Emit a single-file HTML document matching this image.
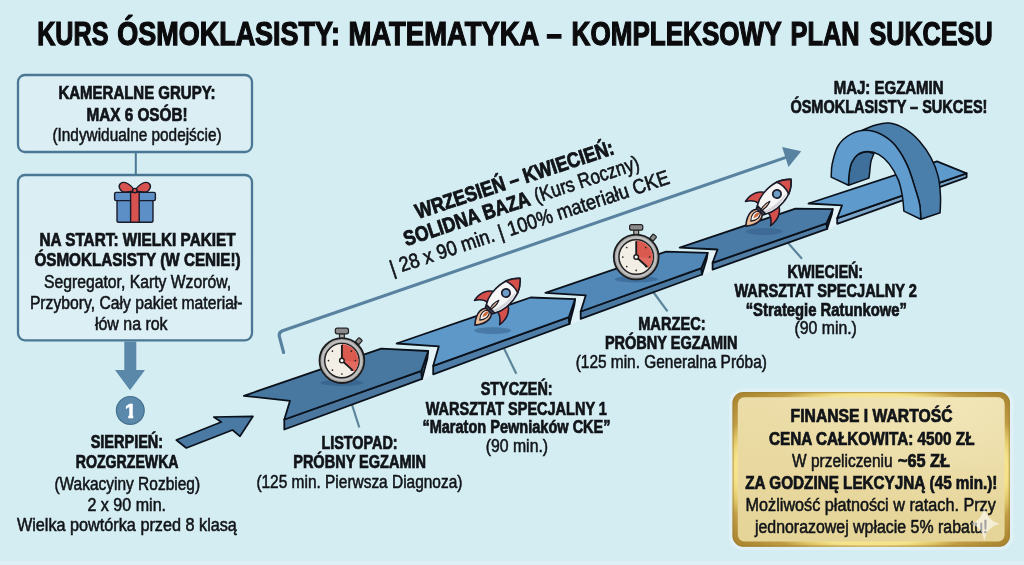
<!DOCTYPE html>
<html lang="pl"><head><meta charset="utf-8"><title>Kurs Ósmoklasisty: Matematyka – kompleksowy plan sukcesu</title>
<style>
html,body{margin:0;padding:0;background:#d4edf2;}
body{width:1024px;height:565px;overflow:hidden;}
svg{display:block;font-family:"Liberation Sans", sans-serif;will-change:transform;opacity:.999;}
</style></head><body>
<svg width="1024" height="565" viewBox="0 0 1024 565">
<defs>
<radialGradient id="gb" cx=".5" cy=".5" r=".78">
<stop offset="0" stop-color="#f6e58e"/><stop offset=".63" stop-color="#f5e48c"/><stop offset=".67" stop-color="#e2c96c"/>
<stop offset=".73" stop-color="#c09d45"/><stop offset=".82" stop-color="#b08c37"/><stop offset=".93" stop-color="#a4802c"/><stop offset="1" stop-color="#9c7928"/></radialGradient>
<linearGradient id="gf" x1="0" y1="0" x2="0" y2="1">
<stop offset="0" stop-color="#ecdda8"/><stop offset="1" stop-color="#e5d497"/></linearGradient>
<radialGradient id="gh" cx=".8" cy=".1" r=".7">
<stop offset="0" stop-color="#f6ecc4" stop-opacity=".55"/><stop offset="1" stop-color="#f6ecc4" stop-opacity="0"/></radialGradient>
</defs>
<rect width="1024" height="565" fill="#d4edf2"/>
<rect x="0" y="561" width="1024" height="4" fill="#e6f5f8" opacity=".45"/>
<text y="44.7" font-size="32.5" font-weight="bold" fill="#0b0b0d" stroke="#0b0b0d" stroke-width="1.25"><tspan x="37.2" textLength="71.2" lengthAdjust="spacingAndGlyphs">KURS</tspan> <tspan x="117.3" textLength="222.7" lengthAdjust="spacingAndGlyphs">ÓSMOKLASISTY:</tspan> <tspan x="348.5" textLength="189.9" lengthAdjust="spacingAndGlyphs">MATEMATYKA</tspan> <tspan x="546.6" textLength="15.3" lengthAdjust="spacingAndGlyphs">–</tspan> <tspan x="571.6" textLength="209.5" lengthAdjust="spacingAndGlyphs">KOMPLEKSOWY</tspan> <tspan x="790.6" textLength="69.0" lengthAdjust="spacingAndGlyphs">PLAN</tspan> <tspan x="869.4" textLength="123.2" lengthAdjust="spacingAndGlyphs">SUKCESU</tspan></text>
<rect x="18" y="75" width="234" height="77" rx="7" fill="#dceff5" stroke="#4a7894" stroke-width="2.3"/>
<line x1="135.8" y1="153" x2="135.8" y2="174" stroke="#4a7894" stroke-width="2"/>
<rect x="18" y="175" width="234" height="165.3" rx="7" fill="#dceff5" stroke="#4a7894" stroke-width="2.3"/>
<text x="58.4" y="98.8" font-size="18" font-weight="bold" fill="#111418" stroke="#111418" stroke-width="0.72" textLength="157.2" lengthAdjust="spacingAndGlyphs" >KAMERALNE GRUPY:</text>
<text x="86.4" y="120.5" font-size="18" font-weight="bold" fill="#111418" stroke="#111418" stroke-width="0.72" textLength="101.2" lengthAdjust="spacingAndGlyphs" >MAX 6 OSÓB!</text>
<text x="52.4" y="140.5" font-size="17.5" font-weight="normal" fill="#111418" stroke="#111418" stroke-width="0.53" textLength="169.2" lengthAdjust="spacingAndGlyphs" >(Indywidualne podejście)</text>
<text x="39.4" y="245.5" font-size="18" font-weight="bold" fill="#111418" stroke="#111418" stroke-width="0.72" textLength="196.2" lengthAdjust="spacingAndGlyphs" >NA START: WIELKI PAKIET</text>
<text x="34.4" y="266.3" font-size="18" font-weight="bold" fill="#111418" stroke="#111418" stroke-width="0.72" textLength="206.2" lengthAdjust="spacingAndGlyphs" >ÓSMOKLASISTY (W CENIE!)</text>
<text x="43.9" y="288.0" font-size="17.5" font-weight="normal" fill="#111418" stroke="#111418" stroke-width="0.53" textLength="187.2" lengthAdjust="spacingAndGlyphs" >Segregator, Karty Wzorów,</text>
<text x="29.9" y="309.3" font-size="17.5" font-weight="normal" fill="#111418" stroke="#111418" stroke-width="0.53" textLength="212.7" lengthAdjust="spacingAndGlyphs" >Przybory, Cały pakiet materiał-</text>
<text x="94.9" y="330.0" font-size="17.5" font-weight="normal" fill="#111418" stroke="#111418" stroke-width="0.53" textLength="72.7" lengthAdjust="spacingAndGlyphs" >łów na rok</text>
<g stroke="#1b1b2a" stroke-width="1.4" stroke-linejoin="round">
<path d="M134.8,191 C131,184 124,180.5 120.5,183.5 C117.5,186.5 120,191.5 125,192.3 Z" fill="#d9534f"/>
<path d="M134.8,191 C138.6,184 145.6,180.5 149.1,183.5 C152.1,186.5 149.6,191.5 144.6,192.3 Z" fill="#d9534f"/>
<rect x="117" y="200" width="36" height="22.3" rx="1.8" fill="#5b8fc5"/>
<rect x="114.6" y="192.4" width="40.8" height="8.2" rx="1.5" fill="#5b8fc5"/>
<rect x="130.6" y="192.4" width="8.6" height="29.9" fill="#d9534f"/>
<circle cx="134.8" cy="190.6" r="2.2" fill="#d9534f"/>
</g>
<polygon points="124.3,341.5 136.3,341.5 136.3,370 145,370 130,390.2 115,370 124.3,370" fill="#5a88a9"/>
<circle cx="130.3" cy="410.4" r="13.9" fill="#5b89ab" stroke="#44708f" stroke-width="1.2"/>
<clipPath id="c1"><polygon points="123,400 133.2,400 133.2,419 128.3,419 128.3,409.6 123,409.6"/></clipPath>
<text x="130.6" y="418" font-size="20.8" font-weight="bold" fill="#fff" stroke="#fff" stroke-width=".5" text-anchor="middle" clip-path="url(#c1)">1</text>
<text x="90.7" y="447.5" font-size="17.5" font-weight="bold" fill="#111418" stroke="#111418" stroke-width="0.70" textLength="72.4" lengthAdjust="spacingAndGlyphs" >SIERPIEŃ:</text>
<text x="75.7" y="468.3" font-size="17.5" font-weight="bold" fill="#111418" stroke="#111418" stroke-width="0.70" textLength="102.9" lengthAdjust="spacingAndGlyphs" >ROZGRZEWKA</text>
<text x="54.4" y="490.0" font-size="17.5" font-weight="normal" fill="#111418" stroke="#111418" stroke-width="0.53" textLength="145.7" lengthAdjust="spacingAndGlyphs" >(Wakacyiny Rozbieg)</text>
<text x="87.4" y="510.8" font-size="17.5" font-weight="normal" fill="#111418" stroke="#111418" stroke-width="0.53" textLength="78.7" lengthAdjust="spacingAndGlyphs" >2 x 90 min.</text>
<text x="16.9" y="531.3" font-size="17.5" font-weight="normal" fill="#111418" stroke="#111418" stroke-width="0.53" textLength="220.0" lengthAdjust="spacingAndGlyphs" >Wielka powtórka przed 8 klasą</text>
<polygon points="176.3,440.0 221.3,422.0 213.8,417.0 253.0,416.3 240.0,436.3 232.5,430.0 186.3,448.0" fill="#4a7aa4" stroke="#0b111b" stroke-width="1.7" stroke-linejoin="round" />
<path d="M283.6,352.5 L279.5,337 Q278.2,332.4 282.6,330.7 L786,157.4" fill="none" stroke="#58829f" stroke-width="3.1" stroke-linecap="round"/>
<polygon points="801.2,151.3 782.1,147.1 788.5,167" fill="#58829f"/>
<text transform="translate(418.0,218.9) rotate(-18.3)" x="0.0" y="0" font-size="21" font-weight="bold" fill="#111418" stroke="#111418" stroke-width="0.84" textLength="208.0" lengthAdjust="spacingAndGlyphs">WRZESIEŃ – KWIECIEŃ:</text>
<text transform="translate(406.3,246.2) rotate(-18.3)" y="0" fill="#111418" stroke="#111418"><tspan x="0" font-size="21" font-weight="bold" stroke-width="0.84" textLength="132" lengthAdjust="spacingAndGlyphs">SOLIDNA BAZA</tspan> <tspan x="137.5" font-size="20.5" font-weight="normal" stroke-width="0.63" textLength="109.5" lengthAdjust="spacingAndGlyphs">(Kurs Roczny)</tspan></text>
<text transform="translate(392.5,275.2) rotate(-18.3)" x="0.0" y="0" font-size="20.5" font-weight="normal" fill="#111418" stroke="#111418" stroke-width="0.63" textLength="293.0" lengthAdjust="spacingAndGlyphs">| 28 x 90 min. | 100% materiału CKE</text>
<line x1="351.8" y1="404" x2="359.3" y2="427.5" stroke="#5c849b" stroke-width="2.2"/>
<line x1="503.8" y1="348" x2="516.3" y2="373.8" stroke="#5c849b" stroke-width="2.2"/>
<line x1="652.5" y1="291" x2="667.5" y2="311.3" stroke="#5c849b" stroke-width="2.2"/>
<line x1="786.3" y1="241" x2="802" y2="258.8" stroke="#5c849b" stroke-width="2.2"/>
<polygon points="428.2,351.0 438.8,346.3 433.2,365.8 433.2,374.3 422.0,378.9 427.2,357.2" fill="#f4fafc" stroke="#f4fafc" stroke-width="1.5" stroke-linejoin="round" opacity=".5"/>
<polygon points="575.1,299.1 585.7,295.4 580.7,311.5 580.7,319.3 569.6,323.9 574.5,305.9" fill="#f4fafc" stroke="#f4fafc" stroke-width="1.5" stroke-linejoin="round" opacity=".5"/>
<polygon points="707.6,252.9 717.5,249.5 712.6,262.8 712.6,269.6 702.0,274.6 706.8,259.7" fill="#f4fafc" stroke="#f4fafc" stroke-width="1.5" stroke-linejoin="round" opacity=".5"/>
<polygon points="832.7,209.1 842.0,205.4 837.2,218.2 837.2,224.4 827.1,228.9 831.8,215.3" fill="#f4fafc" stroke="#f4fafc" stroke-width="1.5" stroke-linejoin="round" opacity=".5"/>
<polygon points="284.3,419.5 421.4,370.8 422.0,378.9 284.3,429.5" fill="#4b779e" stroke="#0b111b" stroke-width="1.8" stroke-linejoin="round" />
<polygon points="428.2,351.0 427.4,358.5 422.0,378.9 421.4,370.8" fill="#38648c" stroke="#0b111b" stroke-width="1.8" stroke-linejoin="round" />
<polygon points="243.8,395.8 381.2,348.7 428.2,351.0 421.4,370.8 284.3,419.5 290.0,400.8" fill="#48779f" stroke="#0b111b" stroke-width="1.8" stroke-linejoin="round" />
<polygon points="433.2,365.8 568.9,317.1 569.5,323.9 433.2,374.3" fill="#4e7ea8" stroke="#0b111b" stroke-width="1.8" stroke-linejoin="round" />
<polygon points="575.1,299.1 574.3,305.3 569.5,323.9 568.9,317.1" fill="#41709b" stroke="#0b111b" stroke-width="1.8" stroke-linejoin="round" />
<polygon points="396.6,343.5 530.5,297.5 575.1,299.1 568.9,317.1 433.2,365.8 438.8,346.3" fill="#5e98c9" stroke="#0b111b" stroke-width="1.8" stroke-linejoin="round" />
<polygon points="580.7,311.5 701.4,268.1 702.0,274.5 580.7,318.9" fill="#4a7aa1" stroke="#0b111b" stroke-width="1.8" stroke-linejoin="round" />
<polygon points="707.6,252.9 706.8,258.7 702.0,274.5 701.4,268.1" fill="#3c6a94" stroke="#0b111b" stroke-width="1.8" stroke-linejoin="round" />
<polygon points="545.4,292.9 666.1,251.6 707.6,252.9 701.4,268.1 580.7,311.5 585.7,295.4" fill="#5288b7" stroke="#0b111b" stroke-width="1.8" stroke-linejoin="round" />
<polygon points="712.6,262.8 826.5,223.4 827.1,228.9 712.6,269.6" fill="#527ea5" stroke="#0b111b" stroke-width="1.8" stroke-linejoin="round" />
<polygon points="832.7,209.1 831.9,214.0 827.1,228.9 826.5,223.4" fill="#3a668f" stroke="#0b111b" stroke-width="1.8" stroke-linejoin="round" />
<polygon points="679.7,247.6 795.5,208.7 832.7,209.1 826.5,223.4 712.6,262.8 717.5,249.5" fill="#4a7ba6" stroke="#0b111b" stroke-width="1.8" stroke-linejoin="round" />
<polygon points="837.2,218.2 966.6,173.3 966.6,177.3 837.2,223.8" fill="#7aa4c8" stroke="#0b111b" stroke-width="1.8" stroke-linejoin="round" />
<polygon points="808.5,203.5 937.0,161.4 966.6,173.3 837.2,218.2 842.0,205.4" fill="#5e9acb" stroke="#0b111b" stroke-width="1.8" stroke-linejoin="round" />
<path d="M848.5,185.2 C848.6,183.3 848.6,177.7 849.1,174.0 C849.6,170.3 850.2,166.0 851.6,162.8 C853.0,159.6 855.0,156.6 857.7,154.7 C860.4,152.8 866.1,152.1 867.8,151.6 L873.9,153.7 C873.4,155.0 871.6,158.4 870.9,161.8 C870.2,165.2 869.8,171.3 869.5,174.0 C869.2,176.7 869.0,177.4 868.9,178.1 Z" fill="#3f709b" stroke="#0b111b" stroke-width="1.5" stroke-linejoin="round"/>
<path d="M860.7,130.9 C863.1,130.0 870.2,126.5 875.0,125.2 C879.8,123.9 884.1,122.4 889.2,123.1 C894.3,123.8 900.4,126.1 905.5,129.2 C910.6,132.3 915.5,136.8 919.7,141.5 C923.9,146.2 927.8,151.9 930.9,157.7 C934.0,163.5 936.5,169.6 938.1,176.1 C939.7,182.6 940.2,190.3 940.5,196.4 C940.8,202.5 940.2,210.0 940.1,212.7 L920.8,219.2 C920.6,216.8 920.6,209.4 919.7,204.6 C918.9,199.8 917.7,196.8 915.7,190.3 C913.7,183.9 910.9,173.4 907.5,165.9 C904.1,158.4 899.7,150.8 895.3,145.5 C890.9,140.2 886.0,136.8 881.1,134.3 C876.2,131.8 868.3,131.0 865.8,130.3 Z" fill="#4a7eab" stroke="#0b111b" stroke-width="1.5" stroke-linejoin="round"/>
<path d="M831.2,177.1 C831.4,174.9 831.0,169.2 832.2,163.9 C833.4,158.6 835.2,150.4 838.3,145.5 C841.3,140.6 845.9,136.8 850.5,134.3 C855.1,131.8 860.7,130.3 865.8,130.3 C870.9,130.3 876.2,131.8 881.1,134.3 C886.0,136.8 890.9,140.2 895.3,145.5 C899.7,150.8 904.1,158.4 907.5,165.9 C910.9,173.4 913.7,183.9 915.7,190.3 C917.7,196.8 918.9,199.8 919.7,204.6 C920.6,209.4 920.6,216.8 920.8,219.2 L903.9,211.1 C903.6,208.7 903.3,201.6 902.4,196.4 C901.5,191.2 900.6,185.5 898.4,180.1 C896.2,174.7 892.4,168.1 889.2,163.9 C886.0,159.7 882.6,156.8 879.0,154.7 C875.4,152.6 871.3,151.6 867.8,151.6 C864.2,151.6 860.4,152.8 857.7,154.7 C855.0,156.6 853.0,159.6 851.6,162.8 C850.2,166.0 849.6,170.3 849.1,174.0 C848.6,177.7 848.6,183.3 848.5,185.2 Z" fill="#609ccd" stroke="#0b111b" stroke-width="1.5" stroke-linejoin="round"/>
<g transform="translate(341.9,360.6)">
<ellipse cx="0" cy="22.2" rx="21.5" ry="3.2" fill="#2f5b86" opacity=".55"/>
<g transform="rotate(41)"><rect x="-2.3" y="-28.6" width="4.6" height="5.6" rx=".8" fill="#8c8c8c" stroke="#222" stroke-width="1.2"/></g>
<rect x="-2.4" y="-27" width="4.8" height="5" fill="#a8a8a8" stroke="#222" stroke-width="1.2"/>
<rect x="-6.6" y="-32.4" width="13.2" height="5.6" rx="2" fill="#8a8a8a" stroke="#222" stroke-width="1.2"/>
<circle r="22.4" fill="#a4a4a4" stroke="#1d1d1d" stroke-width="1.8"/>
<circle r="19.4" fill="none" stroke="#c2c2c2" stroke-width="1.8"/>
<circle r="17.2" fill="#f2ede5" stroke="#222" stroke-width="1.4"/>
<path d="M0,0 L0,-16.5 A16.5,16.5 0 0 1 12.26,11.04 Z" fill="#db5a50"/>
<path d="M0,0 L16.44,1.44 A16.5,16.5 0 0 1 12.26,11.04 Z" fill="#e4766a" opacity=".6"/>
<circle cx="9.48" cy="-9.48" r=".85" fill="#222"/>
<circle cx="13.40" cy="-0.00" r=".85" fill="#222"/>
<circle cx="9.48" cy="9.48" r=".85" fill="#222"/>
<circle cx="0.00" cy="13.40" r=".85" fill="#222"/>
<circle cx="-9.48" cy="9.48" r=".85" fill="#222"/>
<circle cx="-13.40" cy="0.00" r=".85" fill="#222"/>
<circle cx="-9.48" cy="-9.48" r=".85" fill="#222"/>
<line x1="0" y1="0" x2="0" y2="-15" stroke="#1c1c1c" stroke-width="1.9" stroke-linecap="round"/>
<line x1="0" y1="0" x2="10.55" y2="9.49" stroke="#1c1c1c" stroke-width="1.9" stroke-linecap="round"/>
<circle r="2.3" fill="#fff" stroke="#1c1c1c" stroke-width="1.4"/>
</g>
<g transform="translate(636.2,257)">
<ellipse cx="0" cy="22.2" rx="21.5" ry="3.2" fill="#2f5b86" opacity=".55"/>
<g transform="rotate(41)"><rect x="-2.3" y="-28.6" width="4.6" height="5.6" rx=".8" fill="#8c8c8c" stroke="#222" stroke-width="1.2"/></g>
<rect x="-2.4" y="-27" width="4.8" height="5" fill="#a8a8a8" stroke="#222" stroke-width="1.2"/>
<rect x="-6.6" y="-32.4" width="13.2" height="5.6" rx="2" fill="#8a8a8a" stroke="#222" stroke-width="1.2"/>
<circle r="22.4" fill="#a4a4a4" stroke="#1d1d1d" stroke-width="1.8"/>
<circle r="19.4" fill="none" stroke="#c2c2c2" stroke-width="1.8"/>
<circle r="17.2" fill="#f2ede5" stroke="#222" stroke-width="1.4"/>
<path d="M0,0 L0,-16.5 A16.5,16.5 0 0 1 12.26,11.04 Z" fill="#db5a50"/>
<path d="M0,0 L16.44,1.44 A16.5,16.5 0 0 1 12.26,11.04 Z" fill="#e4766a" opacity=".6"/>
<circle cx="9.48" cy="-9.48" r=".85" fill="#222"/>
<circle cx="13.40" cy="-0.00" r=".85" fill="#222"/>
<circle cx="9.48" cy="9.48" r=".85" fill="#222"/>
<circle cx="0.00" cy="13.40" r=".85" fill="#222"/>
<circle cx="-9.48" cy="9.48" r=".85" fill="#222"/>
<circle cx="-13.40" cy="0.00" r=".85" fill="#222"/>
<circle cx="-9.48" cy="-9.48" r=".85" fill="#222"/>
<line x1="0" y1="0" x2="0" y2="-15" stroke="#1c1c1c" stroke-width="1.9" stroke-linecap="round"/>
<line x1="0" y1="0" x2="10.55" y2="9.49" stroke="#1c1c1c" stroke-width="1.9" stroke-linecap="round"/>
<circle r="2.3" fill="#fff" stroke="#1c1c1c" stroke-width="1.4"/>
</g>
<ellipse cx="492.8" cy="330.6" rx="18.5" ry="3.4" fill="#2f5b86" opacity=".5"/>
<g transform="translate(503,296) rotate(44)" stroke="#1b1b2a" stroke-width="1.6" stroke-linejoin="round">
<path d="M0,18 C-8.5,22 -8,31 0,40.5 C8,31 8.5,22 0,18 Z" fill="#ecbc96"/>
<path d="M0,20 C-4.6,23.5 -4.4,28.5 0,33.5 C4.4,28.5 4.6,23.5 0,20 Z" fill="#fbf3ea" stroke-width="1.1"/>
<path d="M0,21 C-2.2,24 -2,26.5 0,29.5 C2,26.5 2.2,24 0,21 Z" fill="#c8673a" stroke="none"/>
<path d="M-7.5,2 C-15.5,5 -19,13.5 -17.5,23 C-14,18 -11,15.5 -7,15.5 Z" fill="#d6504b"/>
<path d="M7.5,2 C15.5,5 19,13.5 17.5,23 C14,18 11,15.5 7,15.5 Z" fill="#d6504b"/>
<path d="M0,-24.5 C8.5,-17 11.5,-6 10,6 C9.4,11 7.8,15 5.8,18 L-5.8,18 C-7.8,15 -9.4,11 -10,6 C-11.5,-6 -8.5,-17 0,-24.5 Z" fill="#f6f6f7"/>
<path d="M6.2,-12 C8.6,-6 9,0 8.4,6 C7.9,10.5 6.6,14.5 5,17 L2.2,17 C4.8,12 6.2,6 6.4,0 C6.5,-4 6.4,-8 6.2,-12 Z" fill="#c9ccd4" stroke="none" opacity=".8"/>
<path d="M0,-24.5 C3.8,-21.2 6.6,-17.2 8.5,-12.5 C3,-14.6 -3,-14.6 -8.5,-12.5 C-6.6,-17.2 -3.8,-21.2 0,-24.5 Z" fill="#d6504b"/>
<circle cx="0" cy="-4.2" r="4.2" fill="#6d9cc8" stroke-width="1.7"/>
<path d="M-5.8,18 L5.8,18 L4.6,20.6 L-4.6,20.6 Z" fill="#4a4a55"/>
<path d="M0,6 C-1.7,10 -1.7,15 0,19.5 C1.7,15 1.7,10 0,6 Z" fill="#ecbc96" stroke-width="1.2"/>
</g>
<ellipse cx="764" cy="231.5" rx="18.5" ry="3.4" fill="#2f5b86" opacity=".5"/>
<g transform="translate(774,197) rotate(44)" stroke="#1b1b2a" stroke-width="1.6" stroke-linejoin="round">
<path d="M0,18 C-8.5,22 -8,31 0,40.5 C8,31 8.5,22 0,18 Z" fill="#ecbc96"/>
<path d="M0,20 C-4.6,23.5 -4.4,28.5 0,33.5 C4.4,28.5 4.6,23.5 0,20 Z" fill="#fbf3ea" stroke-width="1.1"/>
<path d="M0,21 C-2.2,24 -2,26.5 0,29.5 C2,26.5 2.2,24 0,21 Z" fill="#c8673a" stroke="none"/>
<path d="M-7.5,2 C-15.5,5 -19,13.5 -17.5,23 C-14,18 -11,15.5 -7,15.5 Z" fill="#d6504b"/>
<path d="M7.5,2 C15.5,5 19,13.5 17.5,23 C14,18 11,15.5 7,15.5 Z" fill="#d6504b"/>
<path d="M0,-24.5 C8.5,-17 11.5,-6 10,6 C9.4,11 7.8,15 5.8,18 L-5.8,18 C-7.8,15 -9.4,11 -10,6 C-11.5,-6 -8.5,-17 0,-24.5 Z" fill="#f6f6f7"/>
<path d="M6.2,-12 C8.6,-6 9,0 8.4,6 C7.9,10.5 6.6,14.5 5,17 L2.2,17 C4.8,12 6.2,6 6.4,0 C6.5,-4 6.4,-8 6.2,-12 Z" fill="#c9ccd4" stroke="none" opacity=".8"/>
<path d="M0,-24.5 C3.8,-21.2 6.6,-17.2 8.5,-12.5 C3,-14.6 -3,-14.6 -8.5,-12.5 C-6.6,-17.2 -3.8,-21.2 0,-24.5 Z" fill="#d6504b"/>
<circle cx="0" cy="-4.2" r="4.2" fill="#6d9cc8" stroke-width="1.7"/>
<path d="M-5.8,18 L5.8,18 L4.6,20.6 L-4.6,20.6 Z" fill="#4a4a55"/>
<path d="M0,6 C-1.7,10 -1.7,15 0,19.5 C1.7,15 1.7,10 0,6 Z" fill="#ecbc96" stroke-width="1.2"/>
</g>
<text x="321.4" y="448.8" font-size="17.5" font-weight="bold" fill="#111418" stroke="#111418" stroke-width="0.70" textLength="76.2" lengthAdjust="spacingAndGlyphs" >LISTOPAD:</text>
<text x="293.2" y="467.5" font-size="17.5" font-weight="bold" fill="#111418" stroke="#111418" stroke-width="0.70" textLength="132.9" lengthAdjust="spacingAndGlyphs" >PRÓBNY EGZAMIN</text>
<text x="256.4" y="487.5" font-size="17.5" font-weight="normal" fill="#111418" stroke="#111418" stroke-width="0.53" textLength="206.0" lengthAdjust="spacingAndGlyphs" >(125 min. Pierwsza Diagnoza)</text>
<text x="480.7" y="395.1" font-size="17.5" font-weight="bold" fill="#111418" stroke="#111418" stroke-width="0.70" textLength="71.9" lengthAdjust="spacingAndGlyphs" >STYCZEŃ:</text>
<text x="425.7" y="414.5" font-size="17.5" font-weight="bold" fill="#111418" stroke="#111418" stroke-width="0.70" textLength="181.2" lengthAdjust="spacingAndGlyphs" >WARSZTAT SPECJALNY 1</text>
<text x="422.4" y="432.5" font-size="17.5" font-weight="bold" fill="#111418" stroke="#111418" stroke-width="0.70" textLength="188.2" lengthAdjust="spacingAndGlyphs" >“Maraton Pewniaków CKE”</text>
<text x="485.7" y="451.9" font-size="17.5" font-weight="normal" fill="#111418" stroke="#111418" stroke-width="0.53" textLength="62.4" lengthAdjust="spacingAndGlyphs" >(90 min.)</text>
<text x="638.2" y="330.0" font-size="17.5" font-weight="bold" fill="#111418" stroke="#111418" stroke-width="0.70" textLength="67.4" lengthAdjust="spacingAndGlyphs" >MARZEC:</text>
<text x="604.9" y="349.3" font-size="17.5" font-weight="bold" fill="#111418" stroke="#111418" stroke-width="0.70" textLength="132.7" lengthAdjust="spacingAndGlyphs" >PRÓBNY EGZAMIN</text>
<text x="575.7" y="367.5" font-size="17.5" font-weight="normal" fill="#111418" stroke="#111418" stroke-width="0.53" textLength="191.2" lengthAdjust="spacingAndGlyphs" >(125 min. Generalna Próba)</text>
<text x="787.4" y="277.5" font-size="17.5" font-weight="bold" fill="#111418" stroke="#111418" stroke-width="0.70" textLength="75.7" lengthAdjust="spacingAndGlyphs" >KWIECIEŃ:</text>
<text x="734.4" y="297.4" font-size="17.5" font-weight="bold" fill="#111418" stroke="#111418" stroke-width="0.70" textLength="182.5" lengthAdjust="spacingAndGlyphs" >WARSZTAT SPECJALNY 2</text>
<text x="745.7" y="315.5" font-size="17.5" font-weight="bold" fill="#111418" stroke="#111418" stroke-width="0.70" textLength="161.2" lengthAdjust="spacingAndGlyphs" >“Strategie Ratunkowe”</text>
<text x="794.4" y="334.4" font-size="17.5" font-weight="normal" fill="#111418" stroke="#111418" stroke-width="0.53" textLength="62.5" lengthAdjust="spacingAndGlyphs" >(90 min.)</text>
<text x="833.7" y="94.3" font-size="17.5" font-weight="bold" fill="#111418" stroke="#111418" stroke-width="0.70" textLength="109.9" lengthAdjust="spacingAndGlyphs" >MAJ: EGZAMIN</text>
<text x="790.4" y="113.3" font-size="17.5" font-weight="bold" fill="#111418" stroke="#111418" stroke-width="0.70" textLength="197.0" lengthAdjust="spacingAndGlyphs" >ÓSMOKLASISTY – SUKCES!</text>
<rect x="729" y="388.5" width="284.5" height="161.7" rx="14" fill="#eef7f9" opacity=".45"/>
<rect x="732.5" y="392" width="277.4" height="154.8" rx="11" fill="url(#gb)"/>
<rect x="733.1" y="392.6" width="276.2" height="153.6" rx="10.4" fill="none" stroke="#9c7a2c" stroke-opacity=".55" stroke-width="1.2"/>
<rect x="737.8" y="397.3" width="266.8" height="144.2" rx="6.5" fill="url(#gf)"/>
<rect x="737.8" y="397.3" width="266.8" height="144.2" rx="6.5" fill="url(#gh)"/>
<text x="790.6" y="422.3" font-size="18" font-weight="bold" fill="#111418" stroke="#111418" stroke-width="0.72" textLength="161.9" lengthAdjust="spacingAndGlyphs" >FINANSE I WARTOŚĆ</text>
<text x="768.9" y="444.6" font-size="18" font-weight="bold" fill="#111418" stroke="#111418" stroke-width="0.72" textLength="205.6" lengthAdjust="spacingAndGlyphs" >CENA CAŁKOWITA: 4500 ZŁ</text>
<text y="466.8" font-size="18" fill="#111418" stroke="#111418"><tspan x="792.1" font-weight="normal" stroke-width="0.55" textLength="100.5" lengthAdjust="spacingAndGlyphs">W przeliczeniu</tspan> <tspan x="897.9" font-weight="bold" stroke-width="0.72" textLength="52" lengthAdjust="spacingAndGlyphs">~65 ZŁ</tspan></text>
<text x="745.3" y="488.8" font-size="18" font-weight="bold" fill="#111418" stroke="#111418" stroke-width="0.72" textLength="252.1" lengthAdjust="spacingAndGlyphs" >ZA GODZINĘ LEKCYJNĄ (45 min.)!</text>
<text x="745.6" y="511.3" font-size="18" font-weight="normal" fill="#111418" stroke="#111418" stroke-width="0.55" textLength="250.2" lengthAdjust="spacingAndGlyphs" >Możliwość płatności w ratach. Przy</text>
<text x="754.9" y="533.3" font-size="18" font-weight="normal" fill="#111418" stroke="#111418" stroke-width="0.55" textLength="232.7" lengthAdjust="spacingAndGlyphs" >jednorazowej wpłacie 5% rabatu!</text>
<path d="M984.3,507.2 Q986.8,520.6 999.6,523.8 Q986.8,527 984.3,540.6 Q981.8,527 971,523.8 Q981.8,520.6 984.3,507.2 Z" fill="#fff" opacity=".6"/>
</svg>
</body></html>
